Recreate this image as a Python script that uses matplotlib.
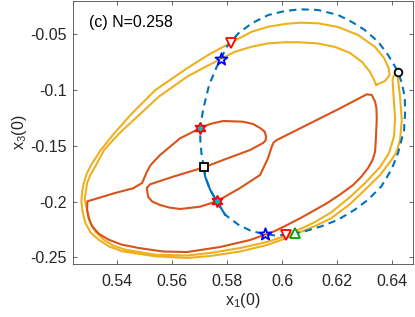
import matplotlib
matplotlib.use("Agg")
import matplotlib.pyplot as plt
from matplotlib.path import Path

plt.rcParams['font.family'] = ['Liberation Sans', 'DejaVu Sans']
plt.rcParams['mathtext.fontset'] = 'custom'
plt.rcParams['mathtext.rm'] = 'Liberation Sans'

# outer trajectory (yellow band, goes round twice)
orange_x1 = [0.63408, 0.63335, 0.63190, 0.62899, 0.62464, 0.61919, 0.61301, 0.60647, 0.60102, 0.59496,
             0.58893, 0.58286, 0.57767, 0.57197, 0.56543, 0.55515, 0.54665, 0.54054, 0.53528, 0.53212,
             0.53037, 0.52910, 0.52819, 0.52849, 0.53030, 0.53219, 0.53517, 0.53855, 0.54291, 0.55391,
             0.56543, 0.57378, 0.58468, 0.59449, 0.60102, 0.60575, 0.61192, 0.61773, 0.62464, 0.63008,
             0.63553, 0.63880, 0.64062, 0.64098, 0.64044, 0.64007, 0.64044, 0.64116, 0.64196, 0.64280,
             0.64341, 0.64280, 0.64134, 0.63964, 0.63553, 0.62997, 0.62464, 0.61773, 0.61192, 0.60575,
             0.60102, 0.59449, 0.58468, 0.57378, 0.56543, 0.55391, 0.54182, 0.53709, 0.53335, 0.53037,
             0.52849, 0.52747, 0.52703, 0.52729, 0.52790, 0.52892, 0.53030, 0.53382, 0.53873, 0.54545,
             0.55391, 0.56543, 0.57306, 0.58130, 0.58893, 0.59496, 0.60102, 0.60647, 0.61301, 0.62028,
             0.62754, 0.63372, 0.63699, 0.63862, 0.63898, 0.63735, 0.63408]
orange_x3 = [-0.09547, -0.09099, -0.08381, -0.07484, -0.06677, -0.06139, -0.05825, -0.05717, -0.05717, -0.05807,
             -0.06112, -0.06561, -0.07215, -0.07933, -0.08803, -0.10596, -0.12534, -0.13942, -0.15377, -0.16839,
             -0.17574, -0.18336, -0.19816, -0.20130, -0.21924, -0.22731, -0.23422, -0.23942, -0.24318, -0.24767,
             -0.24839, -0.24614, -0.24166, -0.23628, -0.23090, -0.22552, -0.21834, -0.20982, -0.19592, -0.18336,
             -0.16901, -0.15646, -0.14121, -0.12507, -0.10623, -0.09099, -0.08740, -0.08605, -0.08830, -0.10623,
             -0.12686, -0.14480, -0.15646, -0.16274, -0.17619, -0.18964, -0.20220, -0.21502, -0.22193, -0.22821,
             -0.23314, -0.23897, -0.24480, -0.24883, -0.25063, -0.24910, -0.24462, -0.24031, -0.23422, -0.22776,
             -0.21924, -0.20937, -0.19978, -0.19144, -0.18336, -0.17529, -0.16839, -0.15466, -0.13942, -0.12085,
             -0.09996, -0.08049, -0.06857, -0.05753, -0.04767, -0.04318, -0.04076, -0.03960, -0.04013, -0.04345,
             -0.05063, -0.06139, -0.07126, -0.08022, -0.08650, -0.09188, -0.09547]

# inner trajectory (red)
red_x1 = [0.57015, 0.57378, 0.57850, 0.58577, 0.58940, 0.59194, 0.59358, 0.59412, 0.59394, 0.59303,
          0.58831, 0.57850, 0.57160, 0.56034, 0.55199, 0.55079, 0.55126, 0.55271, 0.55562, 0.55889,
          0.56288, 0.57015, 0.57622, 0.58468, 0.59194, 0.59485, 0.59619, 0.59685, 0.59801, 0.60891,
          0.62100, 0.63070, 0.63252, 0.63372, 0.63419, 0.63433, 0.63408, 0.63372, 0.63281, 0.63117,
          0.62863, 0.62572, 0.62100, 0.61617, 0.61120, 0.60647, 0.60175, 0.59739, 0.58831, 0.57741,
          0.56543, 0.55671, 0.54788, 0.54145, 0.53699, 0.53346, 0.53092, 0.52965, 0.52910, 0.52921,
          0.53927, 0.54581, 0.54908, 0.55079, 0.55217, 0.55562, 0.56288, 0.57015]
red_x3 = [-0.13430, -0.13045, -0.12776, -0.12839, -0.13045, -0.13404, -0.13718, -0.14184, -0.14525, -0.14749,
          -0.15377, -0.16274, -0.16928, -0.17771, -0.18453, -0.18785, -0.19565, -0.19996, -0.20309, -0.20534,
          -0.20668, -0.20462, -0.19978, -0.18785, -0.17619, -0.16094, -0.15081, -0.14704, -0.14480, -0.13134,
          -0.11637, -0.10381, -0.10444, -0.11045, -0.11610, -0.12534, -0.14031, -0.15529, -0.16274, -0.16991,
          -0.17798, -0.18516, -0.19368, -0.20157, -0.20848, -0.21502, -0.22103, -0.22641, -0.23448, -0.24076,
          -0.24525, -0.24480, -0.24166, -0.23852, -0.23422, -0.22910, -0.22220, -0.21475, -0.20758, -0.19978,
          -0.19233, -0.18812, -0.18336, -0.17350, -0.16722, -0.15825, -0.14327, -0.13430]

# boundary curve (blue, dashed)
blue_x1 = [0.57160, 0.57077, 0.57026, 0.57015, 0.57135, 0.57342, 0.57622, 0.57767, 0.57985, 0.58406,
           0.58893, 0.59496, 0.60102, 0.60647, 0.61301, 0.62028, 0.62511, 0.62997, 0.63481, 0.63844,
           0.64207, 0.64341, 0.64450, 0.64461, 0.64425, 0.64207, 0.63964, 0.63600, 0.63117, 0.62634,
           0.62028, 0.61421, 0.60818, 0.60429, 0.60102, 0.59739, 0.59376, 0.58893, 0.58406, 0.57923,
           0.57622, 0.57378, 0.57197, 0.57160]
blue_x3 = [-0.16928, -0.15978, -0.14659, -0.13430, -0.11637, -0.09547, -0.07906, -0.07215, -0.06112, -0.04910,
           -0.04013, -0.03269, -0.02910, -0.02758, -0.02821, -0.03269, -0.03870, -0.04614, -0.05664, -0.06857,
           -0.08354, -0.09368, -0.10596, -0.12085, -0.13583, -0.15646, -0.17143, -0.18632, -0.19834, -0.20731,
           -0.21628, -0.22220, -0.22668, -0.22865, -0.23000, -0.23045, -0.22910, -0.22668, -0.22076, -0.21179,
           -0.19978, -0.18937, -0.17735, -0.16928]
n_solid = 5  # last points of the blue curve drawn solid

hex_x1 = [0.57015, 0.57622]
hex_x3 = [-0.13430, -0.19978]
star_x1 = [0.57767, 0.59376]
star_x3 = [-0.07215, -0.22910]
tri_dn_x1 = [0.58130, 0.60139]
tri_dn_x3 = [-0.05753, -0.23000]
tri_up_x1 = [0.60455]
tri_up_x3 = [-0.22794]
sq_x1 = [0.57160]
sq_x3 = [-0.16928]
circ_x1 = [0.64207]
circ_x3 = [-0.08354]

xticks = [0.54, 0.56, 0.58, 0.60, 0.62, 0.64]
xticklabels = ['0.54', '0.56', '0.58', '0.6', '0.62', '0.64']
yticks = [-0.25, -0.2, -0.15, -0.1, -0.05]
yticklabels = ['-0.25', '-0.2', '-0.15', '-0.1', '-0.05']

fig = plt.figure(figsize=(4.15, 3.17), dpi=100)
ax = fig.add_axes([0.1747, 0.1672, 0.8212, 0.8312])

line_kw = dict(lw=1.5, solid_joinstyle='round', dash_joinstyle='round')
ax.plot(orange_x1, orange_x3, color='#EDB120', **line_kw)
ax.plot(red_x1, red_x3, color='#D95319', **line_kw)
ax.plot(blue_x1, blue_x3, color='#0072BD', ls=(0, (3.5, 2.5)), **line_kw)
ax.plot(blue_x1[-n_solid:], blue_x3[-n_solid:], color='#0072BD', **line_kw)

pent = Path.unit_regular_star(5, 0.4)
ax.plot(hex_x1, hex_x3, ls='none', marker=(6, 1, 0), ms=8.5, mec='r', mfc='c', mew=1.3)
ax.plot(star_x1, star_x3, ls='none', marker=pent, ms=9, mec='b', mfc='none', mew=1.3)
ax.plot(tri_dn_x1, tri_dn_x3, ls='none', marker='v', ms=7.5, mec='r', mfc='w', mew=1.3)
ax.plot(tri_up_x1, tri_up_x3, ls='none', marker='^', ms=7.5, mec='#00a000', mfc='w', mew=1.3)
ax.plot(sq_x1, sq_x3, ls='none', marker='s', ms=5.5, mec='k', mfc='w', mew=1.3)
ax.plot(circ_x1, circ_x3, ls='none', marker='o', ms=5.5, mec='k', mfc='w', mew=1.3)

ax.set_xlim(0.5238, 0.6476)
ax.set_ylim(-0.2560, -0.0197)
ax.set_xticks(xticks)
ax.set_xticklabels(xticklabels)
ax.set_yticks(yticks)
ax.set_yticklabels(yticklabels)
ax.tick_params(direction='in', top=True, right=True, length=2.6, width=0.5,
               labelsize=11.5, colors='#262626')
ax.tick_params(axis='x', pad=7)
ax.tick_params(axis='y', pad=4)
for s in ax.spines.values():
    s.set_linewidth(0.5)
    s.set_color('#262626')

ax.set_xlabel(r'$\mathregular{x_1(0)}$', fontsize=11.5, color='#262626', labelpad=2)
ax.set_ylabel(r'$\mathregular{x_3(0)}$', fontsize=11.5, color='#262626', labelpad=1)
ax.text(0.048, 0.915, '(c) N=0.258', transform=ax.transAxes, fontsize=11.5,
        va='center', ha='left', color='k')

fig.savefig('out.png', dpi=100)
